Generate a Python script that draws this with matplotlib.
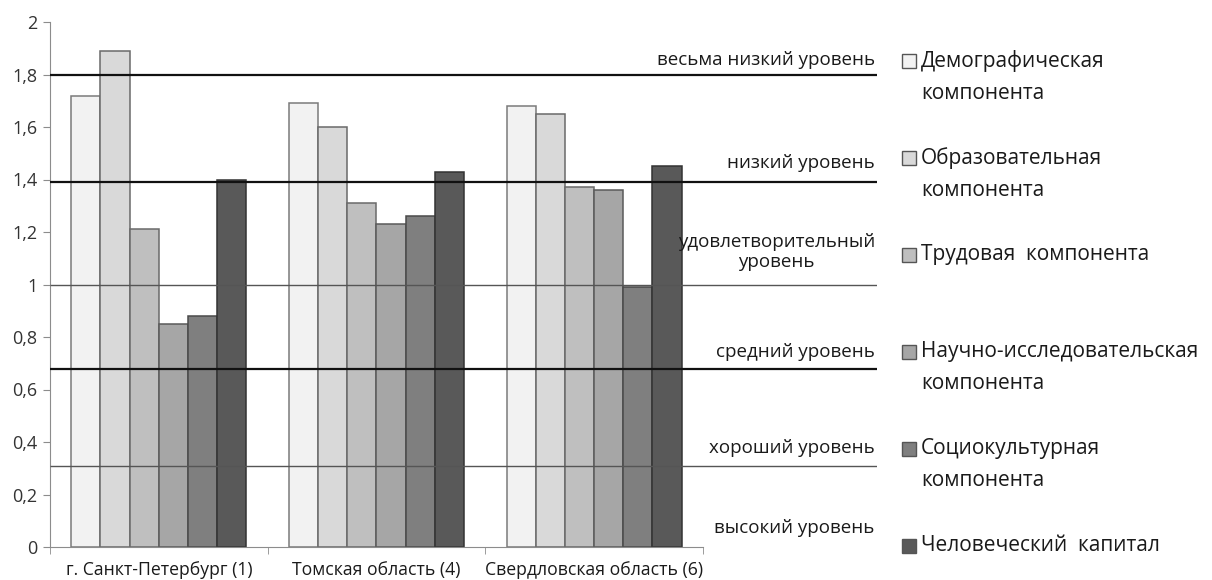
import matplotlib
matplotlib.use("Agg")
import matplotlib.pyplot as plt
from matplotlib.patches import Rectangle
import numpy as np

plt.rcParams['font.family'] = ['Open Sans', 'DejaVu Sans']

regions = ["г. Санкт-Петербург (1)", "Томская область (4)", "Свердловская область (6)"]
series_names = ["Демографическая\nкомпонента", "Образовательная\nкомпонента",
                "Трудовая  компонента", "Научно-исследовательская\nкомпонента",
                "Социокультурная\nкомпонента", "Человеческий  капитал"]
demographic = [1.72, 1.69, 1.68]
educational = [1.89, 1.60, 1.65]
labour = [1.21, 1.31, 1.37]
research = [0.85, 1.23, 1.36]
sociocultural = [0.88, 1.26, 0.99]
human_capital = [1.40, 1.43, 1.45]
series_values = [demographic, educational, labour, research, sociocultural, human_capital]

thresholds = [1.8, 1.39, 1.0, 0.68, 0.31]
threshold_bold = [True, True, False, True, False]
level_labels = ["весьма низкий уровень", "низкий уровень", "удовлетворительный\nуровень",
                "средний уровень", "хороший уровень", "высокий уровень"]
level_label_y = [1.855, 1.463, 1.124, 0.743, 0.377, 0.072]

yticks = [0, 0.2, 0.4, 0.6, 0.8, 1.0, 1.2, 1.4, 1.6, 1.8, 2.0]
ytick_labels = ["0", "0,2", "0,4", "0,6", "0,8", "1", "1,2", "1,4", "1,6", "1,8", "2"]

colors = ["#f2f2f2", "#d9d9d9", "#bfbfbf", "#a6a6a6", "#7f7f7f", "#595959"]
edges = ["#7a7a7a", "#6a6a6a", "#6a6a6a", "#5a5a5a", "#4a4a4a", "#333333"]

W, H = 1212, 580
fig = plt.figure(figsize=(W / 100, H / 100), dpi=100)
ax = fig.add_axes([50 / W, 33 / H, 827 / W, 525 / H])
ax.set_xlim(0, 3.8)
ax.set_ylim(0, 2)

centers = np.arange(len(regions)) + 0.5
bw = 0.134
for i, vals in enumerate(series_values):
    ax.bar(centers + (i - 2.5) * bw, vals, width=bw, color=colors[i],
           edgecolor=edges[i], linewidth=1.1, zorder=2)

for t, b in zip(thresholds, threshold_bold):
    ax.plot([0, 3.8], [t, t], color="#111111" if b else "#555555",
            lw=1.6 if b else 1.0, zorder=3, solid_capstyle='butt')

for lab, yv in zip(level_labels, level_label_y):
    ax.text(3.79, yv, lab, ha='right', va='center', fontsize=13.5,
            color="#1a1a1a", multialignment='center', linespacing=1.2)

for s in ['top', 'right']:
    ax.spines[s].set_visible(False)
ax.spines['left'].set_color('#8c8c8c')
ax.spines['bottom'].set_color('#8c8c8c')
ax.spines['bottom'].set_bounds(0, 3)
ax.set_yticks(yticks)
ax.set_yticklabels(ytick_labels, fontsize=13, color="#333333")
ax.tick_params(axis='y', length=5, color='#8c8c8c', pad=4)
ax.set_xticks(centers)
ax.set_xticklabels(regions, fontsize=12.7, color="#1a1a1a")
ax.tick_params(axis='x', length=0, pad=10)
ax.set_xticks([0, 1, 2, 3], minor=True)
ax.tick_params(axis='x', which='minor', length=5, color='#8c8c8c')

# legend
top0 = 61
step = 97
for i, name in enumerate(series_names):
    yc = top0 + step * i
    fig.patches.append(Rectangle((902 / W, 1 - (yc + 7) / H), 14 / W, 14 / H,
                                 transform=fig.transFigure, facecolor=colors[i],
                                 edgecolor='#555555', lw=1.0))
    fig.text(921 / W, 1 - (yc - 11) / H, name, ha='left', va='top',
             fontsize=15, color="#1a1a1a", linespacing=1.68)

fig.savefig("out.png", dpi=100)
